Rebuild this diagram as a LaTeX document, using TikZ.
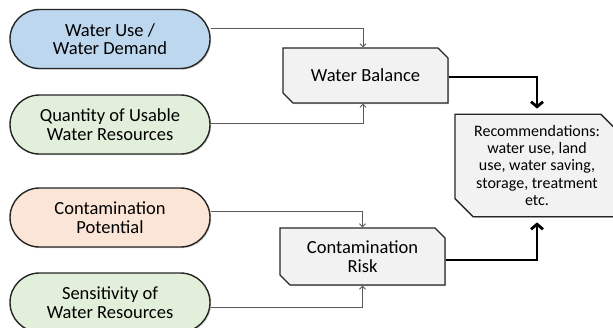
\documentclass[tikz,border=0pt]{standalone}
\usepackage{fontspec}
\setmainfont{Carlito}
\usetikzlibrary{shapes.misc,arrows.meta,shadows}
\definecolor{useblue}{HTML}{BDD7EE}
\definecolor{resgreen}{HTML}{E2EFDA}
\definecolor{potpeach}{HTML}{FBE5D6}
\definecolor{boxgray}{HTML}{F2F2F2}
\definecolor{linegray}{HTML}{595959}
\begin{document}
\begin{tikzpicture}[x=1pt,y=-1pt,
  input/.style={rounded rectangle,draw=black!85,line width=1.4pt,
    minimum width=204pt,minimum height=59pt,align=center,inner sep=2pt,
    font=\fontsize{18.5}{18.5}\selectfont,
    drop shadow={opacity=.35,shadow xshift=1.2pt,shadow yshift=-1.2pt}},
  result/.style={chamfered rectangle,chamfered rectangle corners={north east,south west},
    chamfered rectangle xsep=5pt,chamfered rectangle ysep=5pt,
    draw=black!85,line width=1.4pt,fill=boxgray,align=center,inner sep=2pt,
    font=\fontsize{18.5}{18.5}\selectfont,
    drop shadow={opacity=.35,shadow xshift=1.2pt,shadow yshift=-1.2pt}},
  thinarrow/.style={draw=linegray,line width=.8pt,-{Straight Barb[length=3pt,width=6pt]}},
  thickarrow/.style={draw=black,line width=2.8pt,-{Straight Barb[length=5pt,width=12pt]},shorten >=5pt}]
  \useasboundingbox (0,0) rectangle (613,327);
  % inputs
  \node[input,fill=useblue] (use) at (110,39) {Water Use /\\Water Demand};
  \node[input,fill=resgreen] (qty) at (110,124.5) {Quantity of Usable\\Water Resources};
  \node[input,fill=potpeach] (pot) at (110,217.5) {Contamination\\Potential};
  \node[input,fill=resgreen] (sens) at (110,302.5) {Sensitivity of\\Water Resources};
  % results
  \node[result,minimum width=165pt,minimum height=55pt] (bal) at (365.5,75.5) {Water Balance};
  \node[result,minimum width=165pt,minimum height=57pt] (risk) at (362.5,256.5) {Contamination\\Risk};
  \node[result,minimum width=164pt,minimum height=87pt,
    chamfered rectangle xsep=9pt,chamfered rectangle ysep=9pt,
    font=\fontsize{16}{17.3}\selectfont] (rec) at (537,165.5)
    {Recommendations:\\water use, land\\use, water saving,\\storage, treatment\\etc.};
  % connectors
  \draw[thinarrow] ([yshift=11pt]use.east) -| ([xshift=-2.5pt]bal.north);
  \draw[thinarrow] ([yshift=1.5pt]qty.east) -| ([xshift=-2.5pt]bal.south);
  \draw[thinarrow] ([yshift=6.5pt]pot.east) -| (risk.north);
  \draw[thinarrow] ([yshift=-4.5pt]sens.east) -| (risk.south);
  \draw[thickarrow] ([yshift=-1.5pt]bal.east) -| (rec.north);
  \draw[thickarrow] ([yshift=-3.5pt]risk.east) -| (rec.south);
\end{tikzpicture}
\end{document}
